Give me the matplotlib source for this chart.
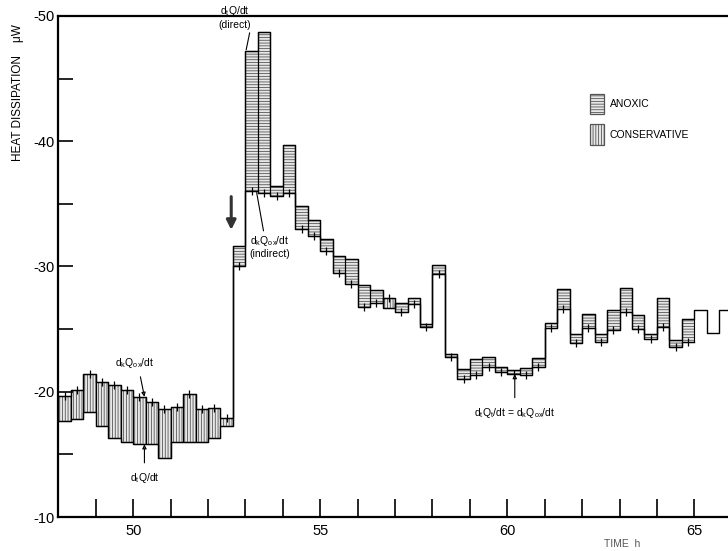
import numpy as np
import matplotlib
matplotlib.use('Agg')
import matplotlib.pyplot as plt
from matplotlib.patches import Patch

plt.rcParams['font.family'] = ['Liberation Sans', 'DejaVu Sans']
plt.rcParams['mathtext.default'] = 'regular'
plt.rcParams['axes.unicode_minus'] = False
plt.rcParams['hatch.linewidth'] = 0.6

# --- data: 20-min bins starting at 48 h ---
t0 = 48.0
bin_h = 1 / 3
# total heat flux, direct measurement (µW)
dtQ = [-17.7, -17.8, -18.4, -17.3, -16.3, -16.0, -15.8, -15.8, -14.7, -16.0,
       -16.0, -16.0, -16.3, -17.3,
       -31.6, -47.2, -48.7, -36.4, -39.7, -34.8, -33.7, -32.2, -30.8, -30.6,
       -28.5, -28.1, -26.7, -27.1, -27.5, -25.4, -30.1, -23.0, -21.8, -22.6,
       -22.8, -22.0, -21.7, -21.9, -22.7, -25.5, -28.2, -24.6, -26.2, -24.6,
       -26.5, -28.3, -26.1, -24.6, -27.5, -24.1, -25.8, -26.5, -24.7, -26.5]
# oxycaloric heat flux, indirect (µW)
dkQox = [-19.7, -20.1, -21.4, -20.8, -20.5, -20.1, -19.6, -19.2, -18.6, -18.8,
         -19.8, -18.6, -18.7, -17.9,
         -30.0, -36.0, -35.9, -35.6, -35.9, -33.0, -32.4, -31.2, -29.5, -28.6,
         -26.8, -27.1, -27.5, -26.4, -27.0, -25.2, -29.4, -22.8, -21.0, -21.3,
         -22.0, -21.6, -21.4, -21.3, -22.0, -25.1, -26.6, -23.9, -25.1, -24.0,
         -24.9, -26.4, -25.0, -24.2, -25.2, -23.6, -24.0, np.nan, np.nan, np.nan]

dtQ = np.array(dtQ)
dkQox = np.array(dkQox)
starts = t0 + np.arange(len(dtQ)) * bin_h
edges = np.append(starts, starts[-1] + bin_h)

fig = plt.figure(figsize=(7.28, 5.51), dpi=100)
ax = fig.add_axes([0.0802, 0.0617, 0.9198, 0.9093])

# --- hatched boxes between the two fluxes ---
ok = ~np.isnan(dkQox)
lo = np.maximum(dtQ, dkQox)
hi = np.minimum(dtQ, dkQox)
anoxic = ok & (dtQ < dkQox)
conserv = ok & (dtQ >= dkQox)
for mask, hatch in [(anoxic, '------'), (conserv, '||||||')]:
    ax.bar(starts[mask], (hi - lo)[mask], bottom=lo[mask], width=bin_h,
           align='edge', facecolor='#e8e8e8', edgecolor='#555555',
           linewidth=0, hatch=hatch)
ax.bar(starts[ok], (hi - lo)[ok], bottom=lo[ok], width=bin_h, align='edge',
       facecolor='none', edgecolor='black', linewidth=0.8)

# step lines
ax.step(edges, np.append(dtQ, dtQ[-1]), where='post', color='black', lw=1.0)
ax.step(edges[:-1][ok].tolist() + [edges[:-1][ok][-1] + bin_h],
        np.append(dkQox[ok], dkQox[ok][-1]), where='post', color='black', lw=1.0)
ax.plot(starts[ok] + bin_h / 2, dkQox[ok], ls='none', marker='|',
        ms=6, mew=0.9, color='black')

# --- axes ---
ax.set_xlim(48, 65.9)
ax.set_ylim(-10, -50)
ax.spines['right'].set_visible(False)
for s in ['left', 'bottom', 'top']:
    ax.spines[s].set_linewidth(1.6)
ax.set_xticks([50, 55, 60, 65])
ax.set_xticks(np.arange(48, 66), minor=True)
ax.set_yticks([-50, -40, -30, -20, -10])
ax.set_yticks([-45, -35, -25, -15], minor=True)
ax.tick_params(axis='both', which='both', direction='in', width=1.2,
               labelsize=10.5)
ax.tick_params(axis='x', which='both', length=13, pad=5)
ax.tick_params(axis='y', which='both', length=11, pad=3)

fig.text(0.025, 0.832, 'HEAT DISSIPATION    μW', rotation=90,
         ha='center', va='center', fontsize=8.5)
fig.text(0.855, 0.012, 'TIME  h', ha='center', va='center',
         fontsize=7.5, color='#555555')

# --- annotations ---
fs = 7.5
ax.annotate('', xy=(52.62, -32.7), xytext=(52.62, -35.8),
            arrowprops=dict(arrowstyle='-|>', color='#333333', lw=2.2,
                            mutation_scale=14))
ax.annotate('d$_t$Q/dt\n(direct)', xy=(53.02, -47.3), xytext=(52.72, -49.9),
            ha='center', va='center', fontsize=fs, annotation_clip=False,
            arrowprops=dict(arrowstyle='-', lw=0.8, shrinkA=0, shrinkB=0,
                            relpos=(1.0, 0.2)))
ax.annotate('d$_k$Q$_{ox}$/dt\n(indirect)', xy=(53.3, -35.9),
            xytext=(53.66, -31.6), ha='center', va='center', fontsize=fs,
            arrowprops=dict(arrowstyle='-', lw=0.8, shrinkA=0, shrinkB=0,
                            relpos=(0.35, 1.0)))
ax.annotate('d$_k$Q$_{ox}$/dt', xy=(50.3, -19.6), xytext=(50.05, -22.3),
            ha='center', va='center', fontsize=fs,
            arrowprops=dict(arrowstyle='-|>', lw=0.8, shrinkA=3, shrinkB=0,
                            mutation_scale=6, relpos=(0.6, 0.0)))
ax.annotate('d$_t$Q/dt', xy=(50.3, -15.8), xytext=(50.3, -13.1),
            ha='center', va='center', fontsize=fs,
            arrowprops=dict(arrowstyle='-|>', lw=0.8, shrinkA=4, shrinkB=0,
                            mutation_scale=6))
ax.annotate('d$_t$Q$_t$/dt = d$_k$Q$_{ox}$/dt', xy=(60.2, -21.4),
            xytext=(60.2, -18.3), ha='center', va='center', fontsize=fs,
            arrowprops=dict(arrowstyle='-|>', lw=0.8, shrinkA=4, shrinkB=0,
                            mutation_scale=6))

# --- legend ---
handles = [Patch(facecolor='#e8e8e8', edgecolor='#555555', hatch='------',
                 lw=0.9, label='ANOXIC'),
           Patch(facecolor='#e8e8e8', edgecolor='#555555', hatch='||||||',
                 lw=0.9, label='CONSERVATIVE')]
ax.legend(handles=handles, loc='upper left', bbox_to_anchor=(0.786, 0.855),
          frameon=False, fontsize=7.5, borderpad=0, handlelength=1.4,
          handleheight=2.6, labelspacing=1.0, handletextpad=0.5)

fig.savefig('out.png', dpi=100)
